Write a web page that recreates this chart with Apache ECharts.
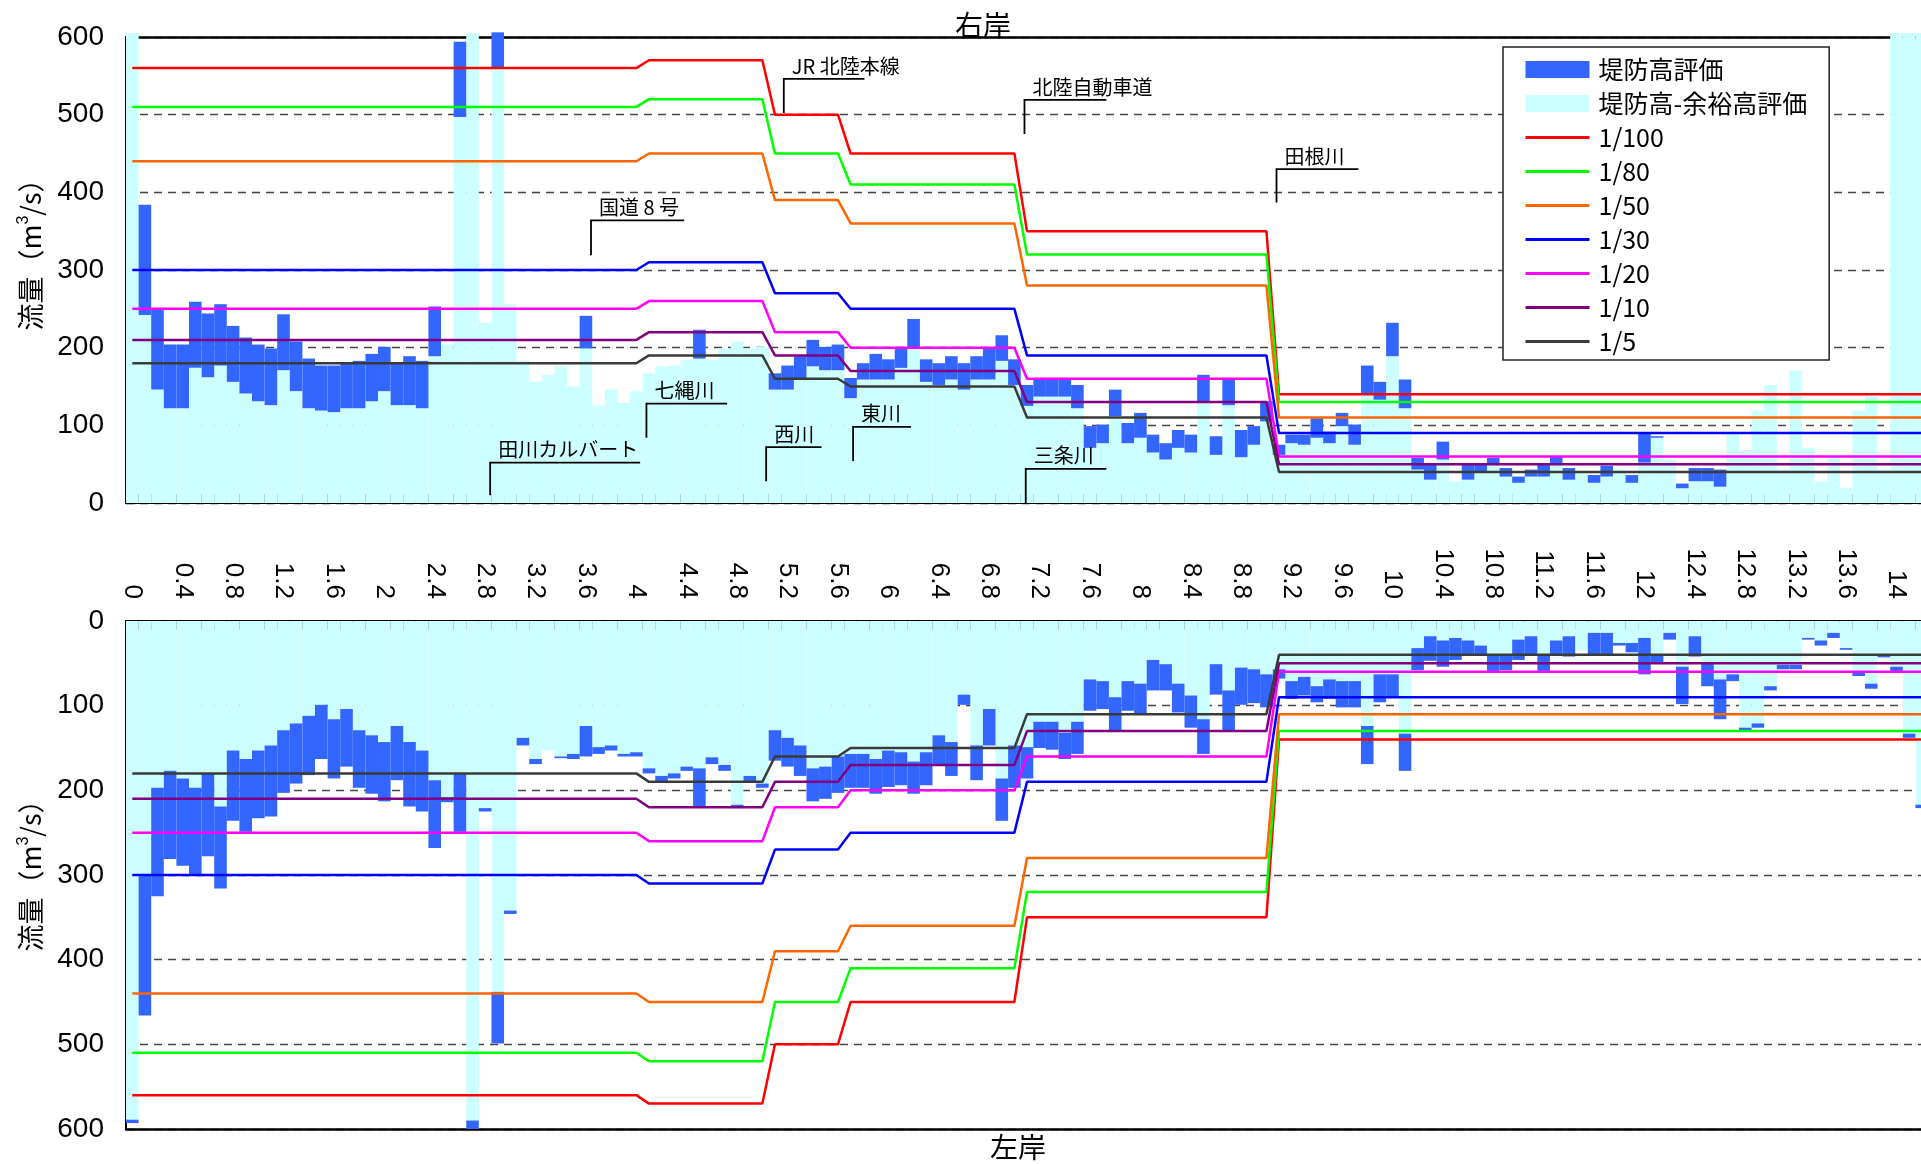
<!DOCTYPE html>
<html><head><meta charset="utf-8">
<script src="https://cdn.jsdelivr.net/npm/echarts@6/dist/echarts.min.js"></script>
<style>html,body{margin:0;padding:0;background:#fff}#c{width:1921px;height:1164px}</style>
</head><body><div id="c"></div>
<script>
// ---- categories (km stations) ----
const stations = [0,0.1,0.2,0.3,0.4,0.5,0.6,0.7,0.8,0.9,
1,1.1,1.2,1.3,1.4,1.5,1.6,1.7,1.8,1.9,
2,2.1,2.2,2.3,2.4,2.5,2.6,2.7,2.8,2.9,
3,3.1,3.2,3.3,3.4,3.5,3.6,3.7,3.8,3.9,
4,4.1,4.2,4.3,4.4,4.5,4.6,4.7,4.8,4.9,
5,5.1,5.2,5.3,5.4,5.5,5.6,5.7,5.8,5.9,
6,6.1,6.2,6.3,6.4,6.5,6.6,6.7,6.8,6.9,
7,7.1,7.2,7.3,7.4,7.5,7.6,7.7,7.8,7.9,
8,8.1,8.2,8.3,8.4,8.5,8.6,8.7,8.8,8.9,
9,9.1,9.2,9.3,9.4,9.5,9.6,9.7,9.8,9.9,
10,10.1,10.2,10.3,10.4,10.5,10.6,10.7,10.8,10.9,
11,11.1,11.2,11.3,11.4,11.5,11.6,11.7,11.8,11.9,
12,12.1,12.2,12.3,12.4,12.5,12.6,12.7,12.8,12.9,
13,13.1,13.2,13.3,13.4,13.5,13.6,13.7,13.8,13.9,
14,14.1,14.2];

// ---- 右岸 (right bank) ----
const rightMargin = [605,242,146,122,122,174,162,177,156,141,
131,126,171,144,122,119,117,122,122,131,
144,126,126,122,189,204,497,605,232,561,
256,183,156,165,176,150,199,126,146,129,
144,167,176,177,184,186,184,199,208,199,
201,146,146,159,176,171,171,135,159,159,
159,174,199,156,152,159,146,159,159,183,
152,125,137,137,137,122,71,77,112,77,
84,65,56,71,65,129,62,126,59,75,
105,62,77,75,84,77,99,75,141,133,
189,122,43,30,56,28,30,41,51,34,
26,34,34,49,30,39,26,34,43,26,
52,84,56,19,28,28,21,90,68,119,
152,43,171,71,28,59,19,119,141,43,
605,605,605];
const rightBank = [605,384,251,204,204,259,244,256,228,213,
204,199,243,208,186,177,177,180,183,192,
201,180,189,183,253,204,594,605,232,606,
256,183,156,165,176,150,241,126,146,129,
144,167,176,177,184,223,184,199,208,199,
201,167,177,189,210,201,204,161,180,192,
185,201,237,185,180,189,180,189,199,216,
185,152,160,160,160,152,99,101,146,103,
116,88,77,94,88,165,86,161,94,99,
131,75,88,88,109,92,116,101,177,156,
232,159,58,49,79,28,49,49,58,45,
34,43,51,60,45,39,36,48,43,36,
90,86,56,25,45,45,43,90,68,119,
152,43,171,71,28,59,19,119,141,43,
605,605,605];

// ---- 左岸 (left bank) ----
const leftMargin = [589,300,197,177,186,197,180,219,153,163,
153,147,129,121,112,99,116,104,129,135,
143,124,143,153,188,208,180,590,221,438,
342,138,163,153,160,157,124,149,147,157,
155,174,183,180,172,174,161,170,217,183,
192,129,138,147,174,172,160,157,157,163,
153,155,166,155,135,143,87,147,104,186,
147,149,119,119,132,119,69,71,90,71,
74,46,51,74,88,116,51,82,55,57,
63,57,71,66,77,69,71,71,124,63,
63,133,32,18,23,20,23,29,40,40,
22,18,40,23,18,35,14,14,26,26,
20,41,14,54,18,49,69,63,126,121,
77,52,52,20,23,14,32,60,74,41,
54,133,217];
const leftBank = [593,466,325,281,289,300,278,316,236,249,
233,231,203,192,182,163,186,172,197,204,
213,188,219,225,268,214,249,600,225,499,
346,147,169,153,162,163,160,157,153,160,
160,180,190,186,177,219,169,177,221,190,
197,165,172,183,213,210,203,197,197,204,
196,194,204,194,171,183,99,188,147,236,
197,186,150,152,163,157,106,104,129,106,
111,82,82,108,126,157,87,129,99,97,
102,68,92,88,96,92,102,102,169,96,
90,177,58,47,54,46,40,40,59,58,
46,41,59,41,42,35,41,41,29,37,
63,49,22,98,42,77,116,71,129,126,
82,57,57,22,29,20,34,65,80,43,
59,138,221];

// ---- probability discharge lines (same both banks) ----
const segStart = [0, 4.1, 5.1, 5.7, 7.1, 9.1];
const segEnd   = [4.0, 5.0, 5.6, 7.0, 9.0, 14.25];
const probNames  = ['1/100','1/80','1/50','1/30','1/20','1/10','1/5'];
const probColors = ['#ff0000','#00ff00','#ff6600','#0000ff','#ff00ff','#800080','#3a3a3a'];
const q100 = [560,570,500,450,350,140];
const q80  = [510,520,450,410,320,130];
const q50  = [440,450,390,360,280,110];
const q30  = [300,310,270,250,190,90];
const q20  = [250,260,220,200,160,60];
const q10  = [210,220,190,170,130,50];
const q5   = [180,190,160,150,110,40];
const probLevels = [q100,q80,q50,q30,q20,q10,q5];

// ---- landmark annotations (右岸 panel) ----
const annNames = ['田川カルバート','七縄川','国道 8 号','西川','JR 北陸本線','東川','北陸自動車道','三条川','田根川'];
const annKm    = [2.84, 4.08, 3.64, 5.03, 5.17, 5.72, 7.08, 7.09, 9.08];
const annBase  = [10, 84, 319, 28, 502, 54, 475, 0, 387];
const annTop   = [52, 128, 364, 72, 546, 98, 519, 44, 430];
const annEnd   = [4.03, 4.72, 4.38, 5.47, 5.81, 6.18, 7.73, 7.73, 9.73];

const FONT = '"Liberation Sans","Noto Sans CJK JP",sans-serif';
const JFONT = '"Noto Sans CJK JP","Liberation Sans",sans-serif';
const COL_BANK = '#3366ff', COL_MARGIN = '#ccffff';

function lineData(levels){
  const pts = [];
  for (let k = 0; k < levels.length; k++){
    pts.push([segStart[k], levels[k]]);
    pts.push([segEnd[k], levels[k]]);
  }
  return pts;
}

const chart = echarts.init(document.getElementById('c'), null, {renderer:'canvas'});

const grids = [
  {left:126, top:37, width:1802, height:466, containLabel:false, outerBoundsMode:'none'},
  {left:126, top:621, width:1802, height:508, containLabel:false, outerBoundsMode:'none'}
];

function catAxis(gi, pos, showLabel){
  return {
    gridIndex: gi, type:'category', data: stations, position: pos,
    axisLine:{show:true, onZero:false, lineStyle:{color:'#000', width:2}},
    axisTick:{show:true, inside:true, interval:0, length:9, alignWithLabel:false, lineStyle:{color:'#555', width:1.2}},
    axisLabel: showLabel ? {show:true, interval:3, rotate:90, margin:22, fontSize:26, color:'#000', fontFamily:FONT} : {show:false},
    splitLine:{show:false}
  };
}
function valXAxis(gi, pos){
  return {
    gridIndex: gi, type:'value', min:-0.05, max:14.25, position: pos,
    axisLine:{show:true, onZero:false, lineStyle:{color:'#000', width:2.5}},
    axisTick:{show:false}, axisLabel:{show:false}, splitLine:{show:false}
  };
}
function yAxis(gi, inverse, shift){
  return {
    gridIndex: gi, type:'value', min:0, max:600, interval:100, inverse: inverse,
    name:'流量（m{sup|3}/s）', nameLocation:'middle', nameGap:80,
    nameTextStyle:{fontSize:27, color:'#000', fontFamily:JFONT, padding:[0,0,0,shift],
      rich:{sup:{fontSize:16, color:'#000', fontFamily:FONT, padding:[0,0,14,0]}}},
    axisLine:{show:true, onZero:false, lineStyle:{color:'#000', width:2}},
    axisTick:{show:true, inside:true, length:10, lineStyle:{color:'#000', width:1.2}},
    axisLabel:{fontSize:28, color:'#000', margin:22, fontFamily:FONT},
    splitLine:{show:true, lineStyle:{color:'#444', width:1.3, type:[8,6]}}
  };
}

const series = [];
[[rightMargin, rightBank],[leftMargin, leftBank]].forEach(function(pair, gi){
  const F = pair[0], H = pair[1];
  series.push({
    name:'堤防高-余裕高評価', type:'bar', xAxisIndex: gi*2, yAxisIndex: gi, stack:'s'+gi,
    data: F, barCategoryGap:'0%', barGap:'0%', clip:false,
    itemStyle:{color:COL_MARGIN}, emphasis:{disabled:true}, silent:true, z:2
  });
  series.push({
    name:'堤防高評価', type:'bar', xAxisIndex: gi*2, yAxisIndex: gi, stack:'s'+gi,
    data: H.map(function(h, i){ return h - F[i]; }), barCategoryGap:'0%', barGap:'0%', clip:false,
    itemStyle:{color:COL_BANK}, emphasis:{disabled:true}, silent:true, z:2
  });
  probLevels.forEach(function(lv, k){
    series.push({
      name: probNames[k], type:'line', xAxisIndex: gi*2+1, yAxisIndex: gi,
      data: lineData(lv), showSymbol:false, symbol:'none', silent:true,
      lineStyle:{color: probColors[k], width:2.5}, itemStyle:{color: probColors[k]}, z:5
    });
  });
});

series.push({
  type:'custom', xAxisIndex:1, yAxisIndex:0, silent:true, clip:false, z:8,
  data: annNames.map(function(n, i){ return [annKm[i], annBase[i], annTop[i], annEnd[i], i]; }),
  renderItem: function(params, api){
    const i = api.value(4);
    const p0 = api.coord([api.value(0), api.value(1)]);
    const p1 = api.coord([api.value(0), api.value(2)]);
    const p2 = api.coord([api.value(3), api.value(2)]);
    return {type:'group', children:[
      {type:'polyline', shape:{points:[p0,p1,p2]}, style:{stroke:'#000', lineWidth:1.8, fill:null}},
      {type:'text', x:p1[0]+8, y:p1[1]-3, style:{text:annNames[i], font:'20px ' + JFONT, fill:'#000', align:'left', verticalAlign:'bottom'}}
    ]};
  }
});

chart.setOption({
  animation:false,
  backgroundColor:'#fff',
  textStyle:{fontFamily:FONT},
  title:[
    {text:'右岸', left:950, top:6, textStyle:{fontSize:28, fontWeight:'normal', color:'#000', fontFamily:JFONT}},
    {text:'左岸', left:985, top:1128, textStyle:{fontSize:28, fontWeight:'normal', color:'#000', fontFamily:JFONT}}
  ],
  legend:{
    data:[{name:'堤防高評価', icon:'rect'},{name:'堤防高-余裕高評価', icon:'rect'}].concat(probNames.map(function(n){
      return {name:n, itemStyle:{opacity:0, color:'rgba(0,0,0,0)', borderWidth:0}};
    })),
    orient:'vertical', left:1503, top:47, selectedMode:false,
    backgroundColor:'#fff', borderColor:'#222', borderWidth:1.5,
    padding:[10,22,6,21], itemGap:9, itemWidth:64, itemHeight:17,
    lineStyle:{width:3},
    textStyle:{fontSize:25, color:'#000', fontFamily:JFONT, padding:[0,0,0,4]}
  },
  grid: grids,
  xAxis:[catAxis(0,'bottom',false), valXAxis(0,'top'), catAxis(1,'top',true), valXAxis(1,'bottom')],
  yAxis:[yAxis(0,false,44), yAxis(1,true,12)],
  series: series
});
</script></body></html>
